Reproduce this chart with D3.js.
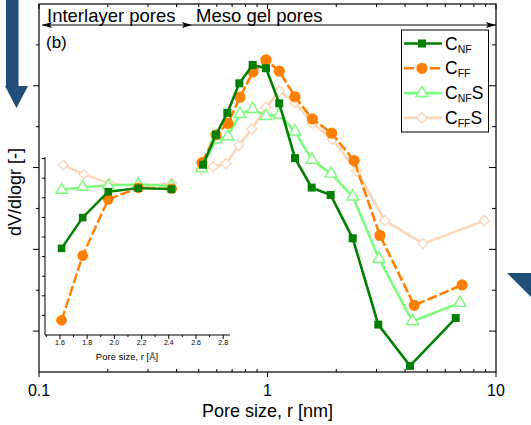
<!DOCTYPE html>
<html>
<head>
<meta charset="utf-8">
<script src="https://cdn.jsdelivr.net/npm/d3@7/dist/d3.min.js"></script>
<style>
  body { margin: 0; background: #fff; }
  text { font-family: "Liberation Sans", Arial, sans-serif; }
</style>
</head>
<body>
<svg width="531" height="425"></svg>
<script>
// main plot, pore size in nm
const nfX = [0.522, 0.595, 0.667, 0.753, 0.861, 0.985, 1.126, 1.319, 1.561, 1.890, 2.360, 3.054, 4.204, 6.662];
const nfY = [0.507, 0.580, 0.634, 0.706, 0.751, 0.743, 0.657, 0.523, 0.451, 0.433, 0.327, 0.116, 0.015, 0.132];
const ffX = [0.517, 0.595, 0.671, 0.758, 0.864, 0.985, 1.126, 1.319, 1.571, 1.909, 2.393, 3.105, 4.389, 7.11];
const ffY = [0.512, 0.580, 0.608, 0.672, 0.734, 0.763, 0.736, 0.673, 0.619, 0.584, 0.517, 0.334, 0.163, 0.213];
const nfsX = [0.515, 0.595, 0.671, 0.758, 0.861, 0.985, 1.126, 1.319, 1.566, 1.897, 2.360, 3.076, 4.31, 6.95];
const nfsY = [0.498, 0.569, 0.576, 0.631, 0.643, 0.626, 0.629, 0.588, 0.519, 0.485, 0.429, 0.277, 0.124, 0.169];
const ffsX = [0.515, 0.579, 0.658, 0.750, 0.853, 0.985, 1.126, 1.319, 1.571, 1.925, 2.456, 3.266, 4.80, 8.89];
const ffsY = [0.498, 0.502, 0.509, 0.555, 0.594, 0.647, 0.687, 0.659, 0.608, 0.569, 0.492, 0.370, 0.314, 0.370];

// inset, pore size in Å
const inX = [1.612, 1.767, 1.955, 2.176, 2.42];
const inFfsX = [1.625, 1.775, 1.96, 2.18, 2.42];
const inNF = [0.442, 0.599, 0.731, 0.749, 0.744];
const inFF = [0.075, 0.405, 0.692, 0.751, 0.746];
const inNFS = [0.740, 0.755, 0.762, 0.769, 0.760];
const inFFS = [0.867, 0.820, 0.774, 0.757, 0.774];

const xTicks = [0.1, 1, 10];
const inTicks = [1.6, 1.8, 2.0, 2.2, 2.4, 2.6, 2.8];

const svg = d3.select('svg');

const pL = 39, pR = 496, pT = 4, pB = 372;
const x = d3.scaleLog().domain([0.1, 10]).range([pL, pR]);
const y = d3.scaleLinear().domain([0, 0.9]).range([pB, pT]);

const series = [
  { sub: 'FF', tail: 'S', xs: ffsX, ys: ffsY, ix: inFfsX, iy: inFFS, color: '#fdd6b8', dash: null, sym: 'diamond', fill: '#fff' },
  { sub: 'NF', tail: 'S', xs: nfsX, ys: nfsY, ix: inX, iy: inNFS, color: '#7cfc7c', dash: null, sym: 'triangle', fill: '#fff' },
  { sub: 'FF', tail: '', xs: ffX, ys: ffY, ix: inX, iy: inFF, color: '#ff7f00', dash: '10,3', sym: 'circle', fill: '#ff7f00' },
  { sub: 'NF', tail: '', xs: nfX, ys: nfY, ix: inX, iy: inNF, color: '#007f00', dash: null, sym: 'square', fill: '#007f00' }
];

function symPath(sym, k) {
  if (sym === 'square') return d3.symbol(d3.symbolSquare, 64 * k)();
  if (sym === 'circle') return d3.symbol(d3.symbolCircle, 100 * k)();
  if (sym === 'triangle') return d3.symbol(d3.symbolTriangle, 62 * k)();
  return d3.symbol(d3.symbolSquare, 52 * k)();
}

function drawMarker(g, s, px, py, k) {
  g.append('path')
    .attr('d', symPath(s.sym, k))
    .attr('transform', `translate(${px},${py})` + (s.sym === 'diamond' ? ' rotate(45)' : ''))
    .attr('fill', s.fill)
    .attr('stroke', s.color)
    .attr('stroke-width', s.fill === '#fff' ? 1.4 : 0);
}

// blue arrows outside the frame
svg.append('path')
  .attr('d', 'M6,0 L18.5,0 L18.5,86 L28,86 L16.5,108 L5,86 L6,86 Z')
  .attr('fill', '#1f4e79');
svg.append('path')
  .attr('d', 'M507,273 L531,273 L531,297 Z')
  .attr('fill', '#1f4e79');

// frame
svg.append('rect')
  .attr('x', pL).attr('y', pT)
  .attr('width', pR - pL).attr('height', pB - pT)
  .attr('fill', 'none').attr('stroke', '#000').attr('stroke-width', 1.2);

// log ticks on bottom and top
const logTicks = x.ticks();
logTicks.forEach(t => {
  const major = xTicks.includes(t);
  const px = x(t);
  svg.append('line').attr('x1', px).attr('x2', px)
    .attr('y1', major ? pB + 5 : pB - 3).attr('y2', pB)
    .attr('stroke', '#000');
  svg.append('line').attr('x1', px).attr('x2', px)
    .attr('y1', pT).attr('y2', pT + (major ? 5 : 3))
    .attr('stroke', '#000');
});
svg.selectAll('.xl').data(xTicks).enter().append('text')
  .attr('x', d => x(d)).attr('y', 396)
  .attr('text-anchor', 'middle').attr('font-size', 16)
  .text(d => d);

// y ticks, no labels
d3.range(1, 9).forEach(i => {
  const v = i / 10;
  const major = i % 2 === 1;
  svg.append('line').attr('x1', pL - (major ? 6 : 3)).attr('x2', pL)
    .attr('y1', y(v)).attr('y2', y(v)).attr('stroke', '#000');
  svg.append('line').attr('x1', pR - (major ? 7 : 4)).attr('x2', pR)
    .attr('y1', y(v)).attr('y2', y(v)).attr('stroke', '#000');
});

svg.append('text')
  .attr('x', x(1)).attr('y', 417)
  .attr('text-anchor', 'middle').attr('font-size', 18)
  .text('Pore size, r [nm]');
svg.append('text')
  .attr('transform', 'translate(21,192) rotate(-90)')
  .attr('text-anchor', 'middle').attr('font-size', 18)
  .text('dV/dlogr [-]');

// pore region arrows
const defs = svg.append('defs');
defs.append('marker').attr('id', 'ah')
  .attr('viewBox', '0 0 10 6').attr('refX', 10).attr('refY', 3)
  .attr('markerWidth', 10).attr('markerHeight', 6)
  .attr('markerUnits', 'userSpaceOnUse').attr('orient', 'auto-start-reverse')
  .append('path').attr('d', 'M0,0 L10,3 L0,6 L2,3 Z').attr('fill', '#000');

svg.append('line').attr('x1', 42).attr('x2', 192).attr('y1', 25).attr('y2', 25)
  .attr('stroke', '#000').attr('stroke-width', 1)
  .attr('marker-start', 'url(#ah)').attr('marker-end', 'url(#ah)');
svg.append('line').attr('x1', 192).attr('x2', 496).attr('y1', 25).attr('y2', 25)
  .attr('stroke', '#000').attr('stroke-width', 1)
  .attr('marker-end', 'url(#ah)');
svg.append('text').attr('x', 47).attr('y', 21.5).attr('font-size', 18.5).text('Interlayer pores');
svg.append('text').attr('x', 196).attr('y', 21.5).attr('font-size', 18.5).text('Meso gel pores');
svg.append('text').attr('x', 46).attr('y', 48).attr('font-size', 17).text('(b)');

// main series
const plot = svg.append('g');
series.forEach(s => {
  const pts = s.xs.map((v, i) => [x(v), y(s.ys[i])]);
  plot.append('path')
    .attr('d', d3.line()(pts))
    .attr('fill', 'none').attr('stroke', s.color).attr('stroke-width', 2.6)
    .attr('stroke-dasharray', s.dash);
  pts.forEach(p => drawMarker(plot, s, p[0], p[1], 1));
});

// inset
const ix = d3.scaleLinear().domain([1.49, 2.85]).range([45, 230]);
const iy = d3.scaleLinear().domain([0, 0.908]).range([335, 157]);
const ins = svg.append('g');
ins.append('line').attr('x1', 45).attr('x2', 45).attr('y1', 157).attr('y2', 335).attr('stroke', '#000');
ins.append('line').attr('x1', 45).attr('x2', 230).attr('y1', 335).attr('y2', 335).attr('stroke', '#000');
d3.range(1, 10).forEach(i => {
  ins.append('line').attr('x1', 42).attr('x2', 45)
    .attr('y1', iy(i / 10)).attr('y2', iy(i / 10)).attr('stroke', '#000');
});
d3.range(1.5, 2.85, 0.1).forEach(t => {
  const major = inTicks.some(m => Math.abs(m - t) < 1e-6);
  ins.append('line').attr('x1', ix(t)).attr('x2', ix(t))
    .attr('y1', 335).attr('y2', 335 + (major ? 4 : 2)).attr('stroke', '#000');
});
ins.selectAll('.il').data(inTicks).enter().append('text')
  .attr('x', d => ix(d)).attr('y', 344.5)
  .attr('text-anchor', 'middle').attr('font-size', 7)
  .text(d => d.toFixed(1));
ins.append('text').attr('x', 127).attr('y', 359.5)
  .attr('text-anchor', 'middle').attr('font-size', 9.5)
  .text('Pore size, r [Å]');

series.forEach(s => {
  const pts = s.ix.map((v, i) => [ix(v), iy(s.iy[i])]);
  ins.append('path')
    .attr('d', d3.line()(pts))
    .attr('fill', 'none').attr('stroke', s.color).attr('stroke-width', 2.4)
    .attr('stroke-dasharray', s.dash);
  pts.forEach(p => drawMarker(ins, s, p[0], p[1], 0.9));
});

// legend
const lg = svg.append('g');
lg.append('rect').attr('x', 401.5).attr('y', 30).attr('width', 87).attr('height', 102)
  .attr('fill', '#fff').attr('stroke', '#000').attr('stroke-width', 1);
const order = [series[3], series[2], series[1], series[0]];
order.forEach((s, i) => {
  const ly = 43.5 + i * 24.8;
  lg.append('line').attr('x1', 404).attr('x2', 442).attr('y1', ly).attr('y2', ly)
    .attr('stroke', s.color).attr('stroke-width', 2.6).attr('stroke-dasharray', s.dash);
  drawMarker(lg, s, 422, ly, 1);
  const t = lg.append('text').attr('x', 445).attr('y', ly + 6).attr('font-size', 17.5);
  t.append('tspan').text('C');
  t.append('tspan').attr('font-size', 10.5).attr('dy', 3).text(s.sub);
  if (s.tail) t.append('tspan').attr('dy', -3).text(s.tail);
});
</script>
</body>
</html>
